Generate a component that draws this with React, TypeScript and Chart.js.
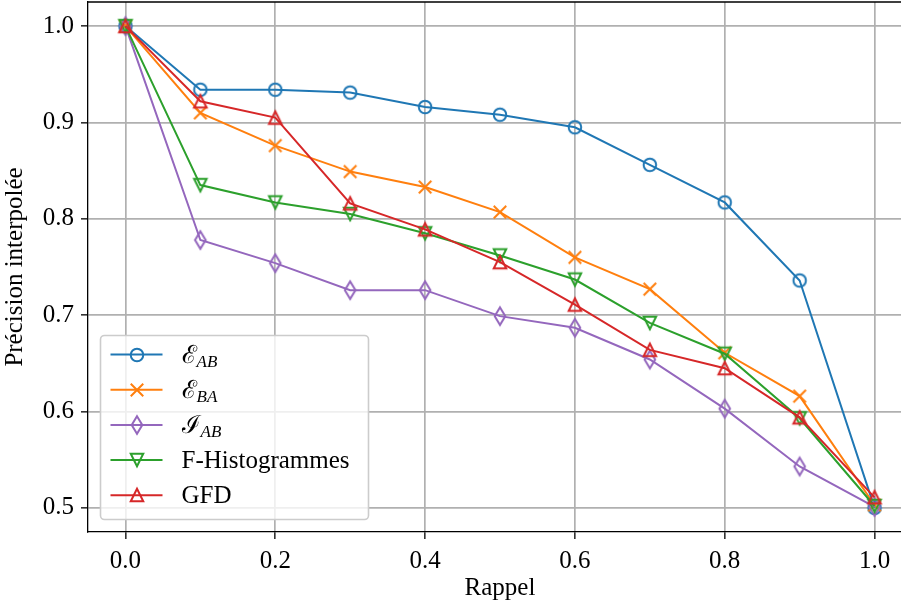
import React, { useEffect, useRef } from "react";
import { Chart, registerables } from "chart.js";

Chart.register(...registerables);

const recall = [0, 0.1, 0.2, 0.3, 0.4, 0.5, 0.6, 0.7, 0.8, 0.9, 1.0];
const eAB = [1.0, 0.934, 0.934, 0.931, 0.916, 0.908, 0.895, 0.856, 0.817, 0.736, 0.5];
const eBA = [1.0, 0.91, 0.876, 0.849, 0.833, 0.807, 0.76, 0.727, 0.661, 0.616, 0.503];
const iAB = [1.0, 0.778, 0.754, 0.726, 0.726, 0.699, 0.687, 0.654, 0.603, 0.543, 0.501];
const fHist = [1.0, 0.835, 0.817, 0.805, 0.785, 0.762, 0.737, 0.692, 0.66, 0.593, 0.502];
const gfd = [1.0, 0.922, 0.905, 0.816, 0.789, 0.755, 0.711, 0.664, 0.645, 0.594, 0.511];

const xTicks = [0, 0.2, 0.4, 0.6, 0.8, 1.0];
const yTicks = [0.5, 0.6, 0.7, 0.8, 0.9, 1.0];

const xTitle = "Rappel";
const yTitle = "Précision interpolée";

type Part = { t: string; sub?: boolean };
const seriesNames: Part[][] = [
  [{ t: "ℰ" }, { t: "AB", sub: true }],
  [{ t: "ℰ" }, { t: "BA", sub: true }],
  [{ t: "ℐ" }, { t: "AB", sub: true }],
  [{ t: "F-Histogrammes" }],
  [{ t: "GFD" }],
];
const seriesColors = ["#1f77b4", "#ff7f0e", "#9467bd", "#2ca02c", "#d62728"];
const seriesMarkers = ["circle", "x", "thin_diamond", "tri_down", "tri_up"];
const seriesValues = [eAB, eBA, iAB, fHist, gfd];

const FONT_FAMILY = "'Liberation Serif', 'DejaVu Serif', serif";
const FONT_SIZE = 25;

function makeMarker(kind: string, color: string): HTMLCanvasElement {
  const s = 26;
  const c = document.createElement("canvas");
  c.width = s;
  c.height = s;
  const g = c.getContext("2d")!;
  g.strokeStyle = color;
  g.lineWidth = 2;
  g.lineJoin = "miter";
  const m = s / 2;
  const h = 6.25;
  g.beginPath();
  if (kind === "circle") {
    g.arc(m, m, h, 0, Math.PI * 2);
  } else if (kind === "x") {
    g.moveTo(m - h, m - h);
    g.lineTo(m + h, m + h);
    g.moveTo(m - h, m + h);
    g.lineTo(m + h, m - h);
  } else if (kind === "tri_up") {
    g.moveTo(m, m - h);
    g.lineTo(m + h, m + h);
    g.lineTo(m - h, m + h);
    g.closePath();
  } else if (kind === "tri_down") {
    g.moveTo(m, m + h);
    g.lineTo(m + h, m - h);
    g.lineTo(m - h, m - h);
    g.closePath();
  } else if (kind === "thin_diamond") {
    const hd = 8.84;
    const wd = 5.3;
    g.moveTo(m, m - hd);
    g.lineTo(m + wd, m);
    g.lineTo(m, m + hd);
    g.lineTo(m - wd, m);
    g.closePath();
  }
  g.stroke();
  return c;
}

export default function App() {
  const ref = useRef<HTMLCanvasElement | null>(null);

  useEffect(() => {
    const canvas = ref.current;
    if (!canvas) return;
    const markers = seriesMarkers.map((k, i) => makeMarker(k, seriesColors[i]));

    const frame = {
      id: "frameAndLegend",
      afterDraw(chart: any) {
        const { ctx, chartArea } = chart;
        ctx.save();
        // top and right spines
        ctx.strokeStyle = "#000";
        ctx.lineWidth = 1.3;
        ctx.beginPath();
        ctx.moveTo(chartArea.left, chartArea.top);
        ctx.lineTo(chartArea.right, chartArea.top);
        ctx.lineTo(chartArea.right, chartArea.bottom);
        ctx.stroke();

        // legend
        const pad = 12.5;
        const bw = 268;
        const bh = 184;
        const bx = chartArea.left + pad;
        const by = chartArea.bottom - pad - bh;
        ctx.beginPath();
        (ctx as any).roundRect(bx, by, bw, bh, 4);
        ctx.fillStyle = "rgba(255,255,255,0.8)";
        ctx.fill();
        ctx.strokeStyle = "#cccccc";
        ctx.lineWidth = 1.6;
        ctx.stroke();

        const rowH = 35.2;
        for (let i = 0; i < seriesNames.length; i++) {
          const cy = by + 19 + i * rowH;
          ctx.strokeStyle = seriesColors[i];
          ctx.lineWidth = 2;
          ctx.beginPath();
          ctx.moveTo(bx + 10, cy);
          ctx.lineTo(bx + 62, cy);
          ctx.stroke();
          const mk = markers[i];
          ctx.drawImage(mk, Math.round(bx + 36 - mk.width / 2), Math.round(cy - mk.height / 2));

          let tx = bx + 81;
          const base = cy + 8;
          ctx.fillStyle = "#000";
          ctx.textBaseline = "alphabetic";
          ctx.textAlign = "left";
          for (const p of seriesNames[i]) {
            if (p.sub) {
              ctx.font = `italic 17px ${FONT_FAMILY}`;
              ctx.fillText(p.t, tx, base + 4);
              tx += ctx.measureText(p.t).width;
            } else {
              ctx.font = `${FONT_SIZE}px ${FONT_FAMILY}`;
              ctx.fillText(p.t, tx, base);
              tx += ctx.measureText(p.t).width;
            }
          }
        }
        ctx.restore();
      },
    };

    const datasets = seriesValues.map((vals, i) => ({
      label: seriesNames[i].map((p) => p.t).join(""),
      data: recall.map((x, j) => ({ x, y: vals[j] })),
      borderColor: seriesColors[i],
      backgroundColor: "transparent",
      borderWidth: 2,
      pointStyle: markers[i],
      pointRadius: 6,
      pointHoverRadius: 6,
      tension: 0,
      order: seriesValues.length - i,
    }));

    const font = { family: FONT_FAMILY, size: FONT_SIZE };

    const chart = new Chart(canvas, {
      type: "line",
      data: { datasets: datasets as any },
      options: {
        animation: false,
        responsive: false,
        devicePixelRatio: 1,
        layout: { autoPadding: false, padding: { top: 2, left: 0, right: 0, bottom: 0 } },
        plugins: {
          legend: { display: false },
          tooltip: { enabled: false },
        },
        scales: {
          x: {
            type: "linear",
            min: -0.05,
            max: 1.05,
            afterFit: (s: any) => {
              s.height = 76;
              s.paddingLeft = 0;
              s.paddingRight = 0;
            },
            afterBuildTicks: (s: any) => {
              s.ticks = xTicks.map((v) => ({ value: v }));
            },
            ticks: {
              callback: (v: any) => Number(v).toFixed(1),
              font,
              color: "#000",
              padding: 7,
              maxRotation: 0,
            },
            grid: {
              color: "#b0b0b0",
              lineWidth: 1.7,
              tickColor: "#000",
              tickLength: 7,
              tickWidth: 1.3,
            },
            border: { display: true, color: "#000", width: 1.3 },
            title: {
              display: true,
              text: xTitle,
              font,
              color: "#000",
              padding: { top: 0, bottom: 5 },
            },
          },
          y: {
            type: "linear",
            min: 0.475,
            max: 1.025,
            afterFit: (s: any) => {
              s.width = 88;
              s.paddingTop = 0;
              s.paddingBottom = 0;
            },
            afterBuildTicks: (s: any) => {
              s.ticks = yTicks.map((v) => ({ value: v }));
            },
            ticks: {
              callback: (v: any) => Number(v).toFixed(1),
              font,
              color: "#000",
              padding: 7,
            },
            grid: {
              color: "#b0b0b0",
              lineWidth: 1.7,
              tickColor: "#000",
              tickLength: 7,
              tickWidth: 1.3,
            },
            border: { display: true, color: "#000", width: 1.3 },
            title: {
              display: true,
              text: yTitle,
              font,
              color: "#000",
              padding: { top: 0, bottom: 0 },
            },
          },
        },
      },
      plugins: [frame],
    });

    return () => chart.destroy();
  }, []);

  return (
    <div
      style={{
        position: "fixed",
        left: 0,
        top: 0,
        width: 901,
        height: 608,
        overflow: "hidden",
        background: "#fff",
      }}
    >
      <canvas ref={ref} width={912} height={608} style={{ width: 912, height: 608, display: "block" }} />
    </div>
  );
}
